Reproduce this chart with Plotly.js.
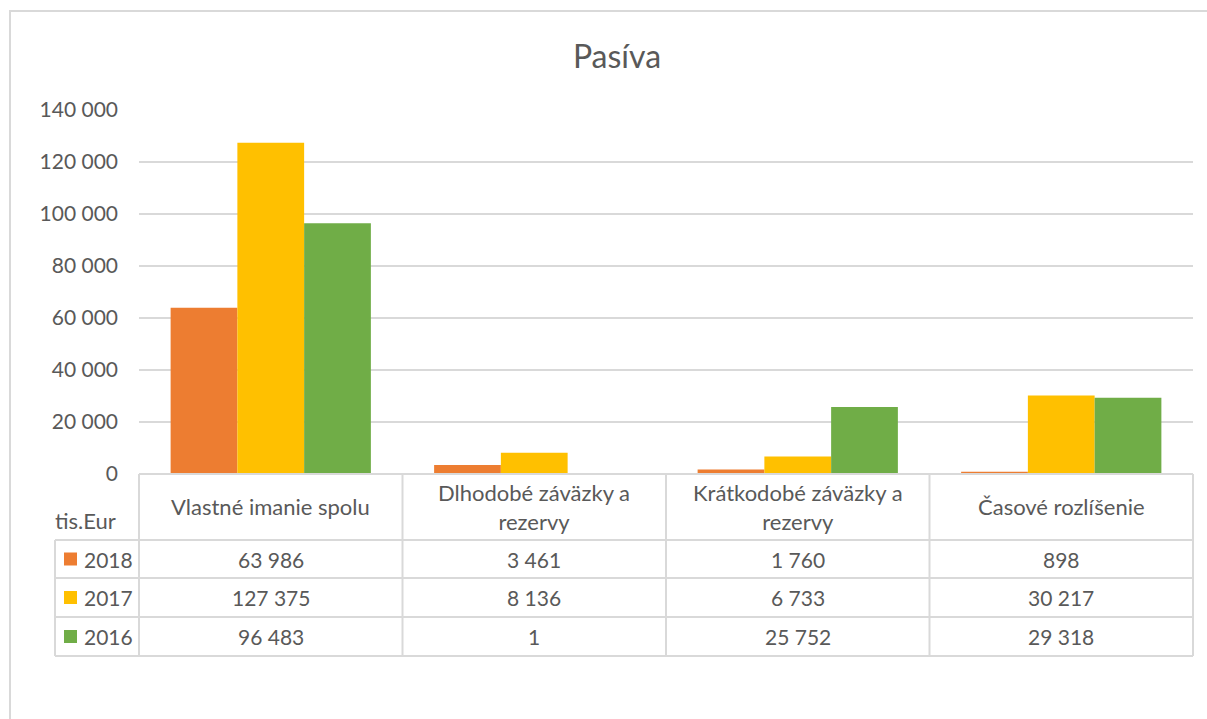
<!DOCTYPE html>
<html>
<head>
<meta charset="utf-8">
<script src="https://cdn.plot.ly/plotly-3.0.1.min.js"></script>
<style>
  html, body { margin: 0; padding: 0; background: #ffffff; }
  #chart { width: 1207px; height: 719px; }
</style>
</head>
<body>
<div id="chart"></div>
<script>
// ---- data ----
const categories = ["Vlastné imanie spolu", "Dlhodobé záväzky a rezervy", "Krátkodobé záväzky a rezervy", "Časové rozlíšenie"];
const categoryLabels = ["Vlastné imanie spolu", "Dlhodobé záväzky a<br>rezervy", "Krátkodobé záväzky a<br>rezervy", "Časové rozlíšenie"];
const seriesNames = ["2018", "2017", "2016"];
const values2018 = [63986, 3461, 1760, 898];
const values2017 = [127375, 8136, 6733, 30217];
const values2016 = [96483, 1, 25752, 29318];
const yTickValues = [0, 20000, 40000, 60000, 80000, 100000, 120000, 140000];
const unitLabel = "tis.Eur";
const chartTitle = "Pasíva";

// ---- styles ----
const colors = ["#ED7D31", "#FFC000", "#70AD47"];
const textColor = "#595959";
const lineColor = "#D9D9D9";
const FONT = "Lato, 'Open Sans', sans-serif";

const W = 1207, H = 719;
const M = { l: 139, r: 14, t: 110, b: 245 };
const plotW = W - M.l - M.r, plotH = H - M.t - M.b;
const px = p => (p - M.l) / plotW;          // pixel x -> paper x
const py = p => (H - M.b - p) / plotH;      // pixel y -> paper y

function fmt(v) {
  return String(v).replace(/\B(?=(\d{3})+(?!\d))/g, " ");
}

const seriesValues = [values2018, values2017, values2016];
const traces = seriesNames.map((name, i) => ({
  type: "bar",
  name: name,
  x: categories,
  y: seriesValues[i],
  marker: { color: colors[i], line: { width: 0 } },
  hoverinfo: "x+y+name"
}));

// table geometry (pixels)
const headerTop = 474, headerBottom = 540;
const rowBounds = [540, 578, 617, 656];
const tableLeft = 55;
const n = categories.length;

const shapes = [];
const line = (x0, y0, x1, y1) => shapes.push({
  type: "line", xref: "paper", yref: "paper",
  x0: x0, y0: y0, x1: x1, y1: y1,
  line: { color: lineColor, width: 2 }, layer: "above"
});

// chart frame
shapes.push({
  type: "rect", xref: "paper", yref: "paper",
  x0: px(10), x1: px(1240), y0: py(11), y1: py(760),
  line: { color: lineColor, width: 2 }, fillcolor: "rgba(0,0,0,0)", layer: "below"
});

// header top line
line(0, py(headerTop), 1, py(headerTop));
// row lines
rowBounds.forEach(b => line(px(tableLeft), py(b), 1, py(b)));
// vertical lines
line(px(tableLeft), py(headerBottom), px(tableLeft), py(rowBounds[rowBounds.length - 1]));
for (let i = 0; i <= n; i++) {
  line(i / n, py(headerTop), i / n, py(rowBounds[rowBounds.length - 1]));
}

const annotations = [];
// header labels
categoryLabels.forEach((lab, i) => annotations.push({
  xref: "paper", yref: "paper", x: (i + 0.5) / n, y: py((headerTop + headerBottom) / 2),
  text: lab, showarrow: false, xanchor: "center", yanchor: "middle",
  font: { family: FONT, size: 22, color: textColor }
}));
// unit label
annotations.push({
  xref: "paper", yref: "paper", x: px(tableLeft - 2), y: py(520),
  text: unitLabel, showarrow: false, xanchor: "left", yanchor: "middle",
  font: { family: FONT, size: 22, color: textColor }
});
// rows
seriesNames.forEach((name, r) => {
  const yc = py((rowBounds[r] + rowBounds[r + 1]) / 2);
  // legend key
  shapes.push({
    type: "rect", xref: "paper", yref: "paper",
    x0: px(64), x1: px(77),
    y0: py((rowBounds[r] + rowBounds[r + 1]) / 2 - 6.5),
    y1: py((rowBounds[r] + rowBounds[r + 1]) / 2 + 6.5),
    fillcolor: colors[r], line: { width: 0 }, layer: "above"
  });
  annotations.push({
    xref: "paper", yref: "paper", x: px(82), y: yc,
    text: name, showarrow: false, xanchor: "left", yanchor: "middle",
    font: { family: FONT, size: 21, color: textColor }
  });
  seriesValues[r].forEach((v, i) => annotations.push({
    xref: "paper", yref: "paper", x: (i + 0.5) / n, y: yc,
    text: fmt(v), showarrow: false, xanchor: "center", yanchor: "middle",
    font: { family: FONT, size: 21, color: textColor }
  }));
});

const layout = {
  width: W, height: H,
  margin: M,
  paper_bgcolor: "#ffffff",
  plot_bgcolor: "#ffffff",
  separators: ", ",
  title: {
    text: chartTitle,
    font: { family: FONT, size: 32, color: textColor },
    xref: "container", yref: "container",
    x: 617 / W, y: 1 - 57 / H, xanchor: "center", yanchor: "middle"
  },
  showlegend: false,
  barmode: "group",
  bargap: 0.24,
  bargroupgap: 0,
  xaxis: {
    type: "category",
    showticklabels: false,
    showgrid: false,
    zeroline: false,
    showline: false,
    ticks: ""
  },
  yaxis: {
    range: [0, 140000],
    tickvals: yTickValues,
    ticktext: yTickValues.map(fmt),
    showgrid: true,
    gridcolor: lineColor,
    gridwidth: 2,
    zeroline: false,
    showline: false,
    ticks: "",
    ticklabelstandoff: 20,
    tickfont: { family: FONT, size: 21, color: textColor }
  },
  shapes: shapes,
  annotations: annotations
};

Plotly.newPlot("chart", traces, layout, { displayModeBar: false, staticPlot: true });
</script>
</body>
</html>
